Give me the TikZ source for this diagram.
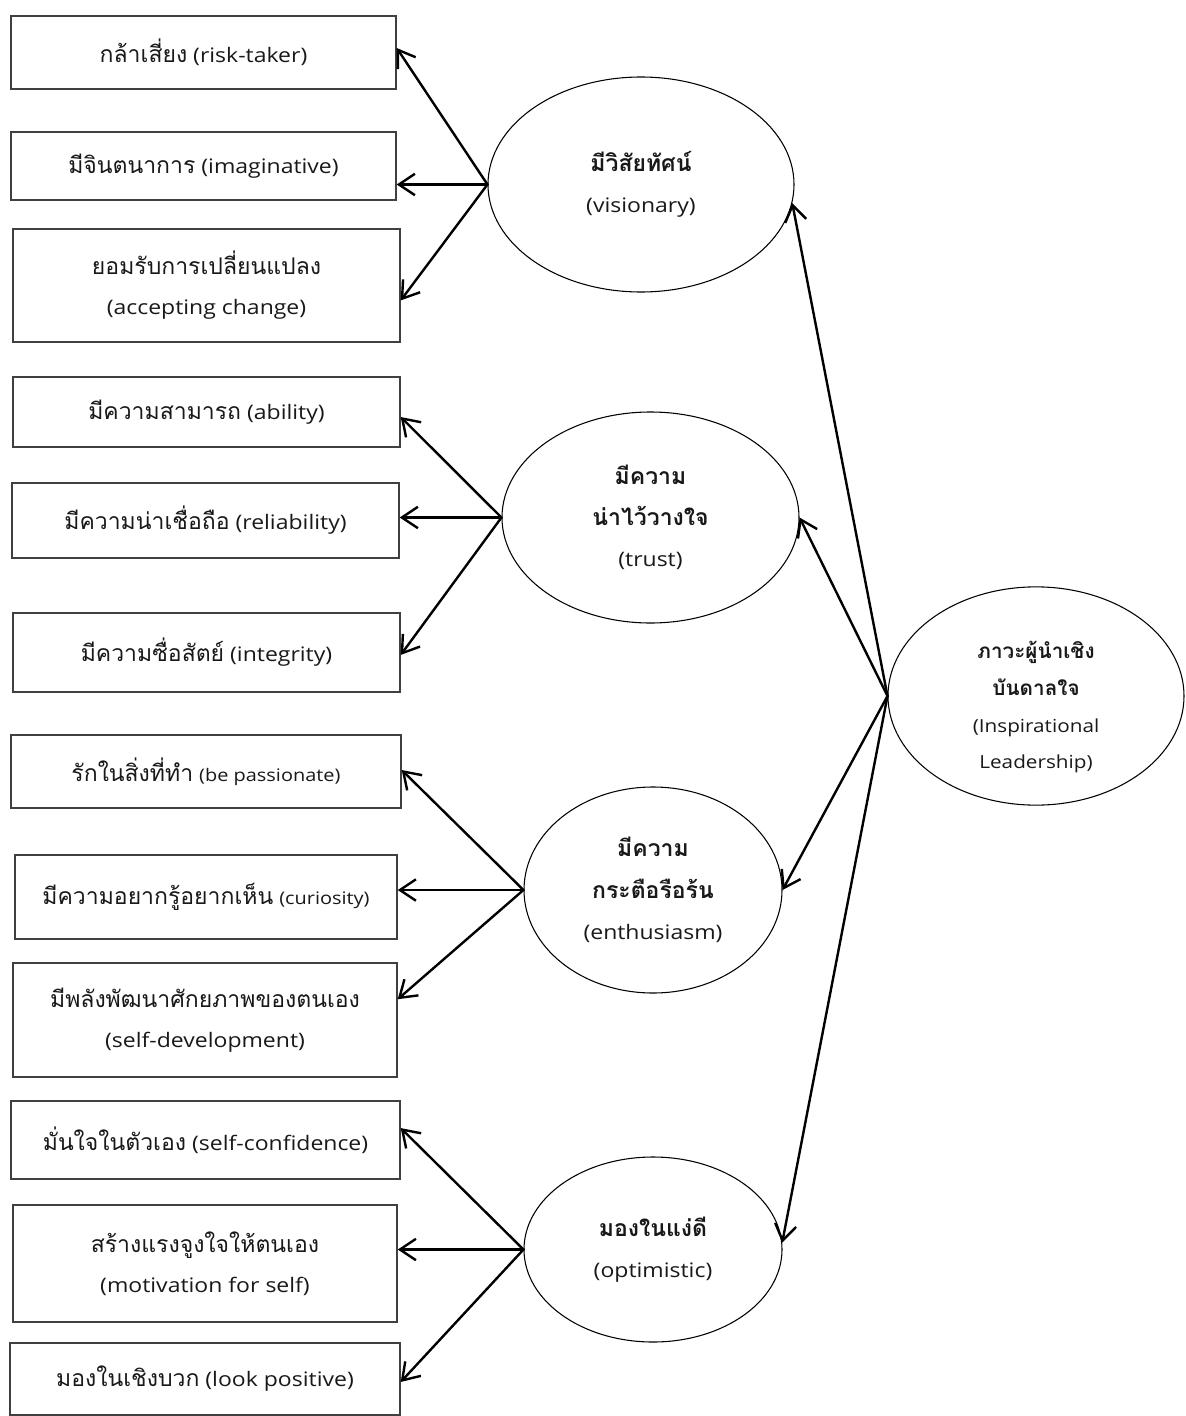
\documentclass[tikz,border=0pt]{standalone}
\usepackage{fontspec}
\setmainfont{Open Sans}[FakeStretch=1.15]
\newfontfamily\thaifont[Script=Thai, Scale=1.15]{Loma}
\usetikzlibrary{arrows.meta,calc,shapes.geometric}

% Thai words are set in Loma, Latin words in the main font
\newcommand\T[1]{{\thaifont #1}}
\newcommand\TB[1]{{\thaifont\bfseries #1}}
\newcommand\sm[1]{{\fontsize{13pt}{30pt}\selectfont #1}}

\tikzset{
  wh/.style 2 args={minimum width=#1*0.75pt, minimum height=#2*0.75pt},
  itembox/.style={rectangle, draw=black!75, line width=1.1pt, inner sep=0pt,
    align=center, text=black!90, font=\fontsize{15pt}{30pt}\selectfont},
  factor/.style={ellipse, draw=black, line width=0.8pt, inner sep=0pt,
    align=center, text=black!90, font=\fontsize{15pt}{31pt}\selectfont},
  arr/.style={line width=1.8pt, line cap=round,
    -{Straight Barb[length=12pt,width=16pt,line width=1.8pt]}},
}

\begin{document}
\begin{tikzpicture}[x=0.75pt,y=-0.75pt]
\path[use as bounding box, fill=white] (0,0) rectangle (1185,1416);

% indicator boxes
\node[itembox, wh={385}{73}]  (B1)  at (203.5,52.5)  {\T{กล้าเสี่ยง} (risk-taker)};
\node[itembox, wh={385}{68}]  (B2)  at (203.5,166)   {\T{มีจินตนาการ} (imaginative)};
\node[itembox, wh={387}{113}] (B3)  at (206.5,285.5) {\T{ยอมรับการเปลี่ยนแปลง}\\(accepting change)};
\node[itembox, wh={387}{70}]  (B4)  at (206.5,412)   {\T{มีความสามารถ} (ability)};
\node[itembox, wh={387}{75}]  (B5)  at (205.5,520.5) {\T{มีความน่าเชื่อถือ} (reliability)};
\node[itembox, wh={387}{79}]  (B6)  at (206.5,652.5) {\T{มีความซื่อสัตย์} (integrity)};
\node[itembox, wh={390}{73}]  (B7)  at (206,771.5)   {\T{รักในสิ่งที่ทำ} \sm{(be passionate)}};
\node[itembox, wh={382}{84}]  (B8)  at (206,897)     {\T{มีความอยากรู้อยากเห็น} \sm{(curiosity)}};
\node[itembox, wh={384}{114}] (B9)  at (205,1020)    {\T{มีพลังพัฒนาศักยภาพของตนเอง}\\(self-development)};
\node[itembox, wh={389}{78}]  (B10) at (205.5,1140)  {\T{มั่นใจในตัวเอง} (self-confidence)};
\node[itembox, wh={384}{117}] (B11) at (205,1263.5)  {\T{สร้างแรงจูงใจให้ตนเอง}\\(motivation for self)};
\node[itembox, wh={390}{72}]  (B12) at (205,1379)    {\T{มองในเชิงบวก} (look positive)};

% factor ellipses
\node[factor, wh={306}{215}] (E1) at (641,184.5) {\TB{มีวิสัยทัศน์}\\(visionary)};
\node[factor, wh={297}{211}] (E2) at (650.5,517.5) {\TB{มีความ}\\\TB{น่าไว้วางใจ}\\(trust)};
\node[factor, wh={258}{206}] (E3) at (653,890) {\TB{มีความ}\\\TB{กระตือรือร้น}\\(enthusiasm)};
\node[factor, wh={258}{185}] (E4) at (653,1249.5) {\TB{มองในแง่ดี}\\(optimistic)};
\node[factor, wh={296}{218}, font=\fontsize{13.5pt}{27.5pt}\selectfont] (E5) at (1036,696)
  {\rule{0pt}{30pt}\TB{ภาวะผู้นำเชิง}\\\TB{บันดาลใจ}\\(Inspirational\\Leadership)};

% second-order paths
\draw[arr] (E5.west) -- (E1.-7);
\draw[arr] (E5.west) -- (E2.east);
\draw[arr] (E5.west) -- (E3.east);
\draw[arr] (E5.west) -- (E4.3);

% first-order paths
\draw[arr] (E1.west) -- ($(B1.north east)!0.44!(B1.south east)$);
\draw[arr] (E1.west) -- (B2.east |- E1.west);
\draw[arr] (E1.west) -- ($(B3.north east)!0.63!(B3.south east)$);

\draw[arr] (E2.west) -- ($(B4.north east)!0.57!(B4.south east)$);
\draw[arr] (E2.west) -- (B5.east |- E2.west);
\draw[arr] (E2.west) -- ($(B6.north east)!0.53!(B6.south east)$);

\draw[arr] (E3.west) -- ($(B7.north east)!0.48!(B7.south east)$);
\draw[arr] (E3.west) -- (B8.east |- E3.west);
\draw[arr] (E3.west) -- ($(B9.north east)!0.32!(B9.south east)$);

\draw[arr] (E4.west) -- ($(B10.north east)!0.35!(B10.south east)$);
\draw[arr] (E4.west) -- (B11.east |- E4.west);
\draw[arr] (E4.west) -- ($(B12.north east)!0.54!(B12.south east)$);
\end{tikzpicture}
\end{document}
